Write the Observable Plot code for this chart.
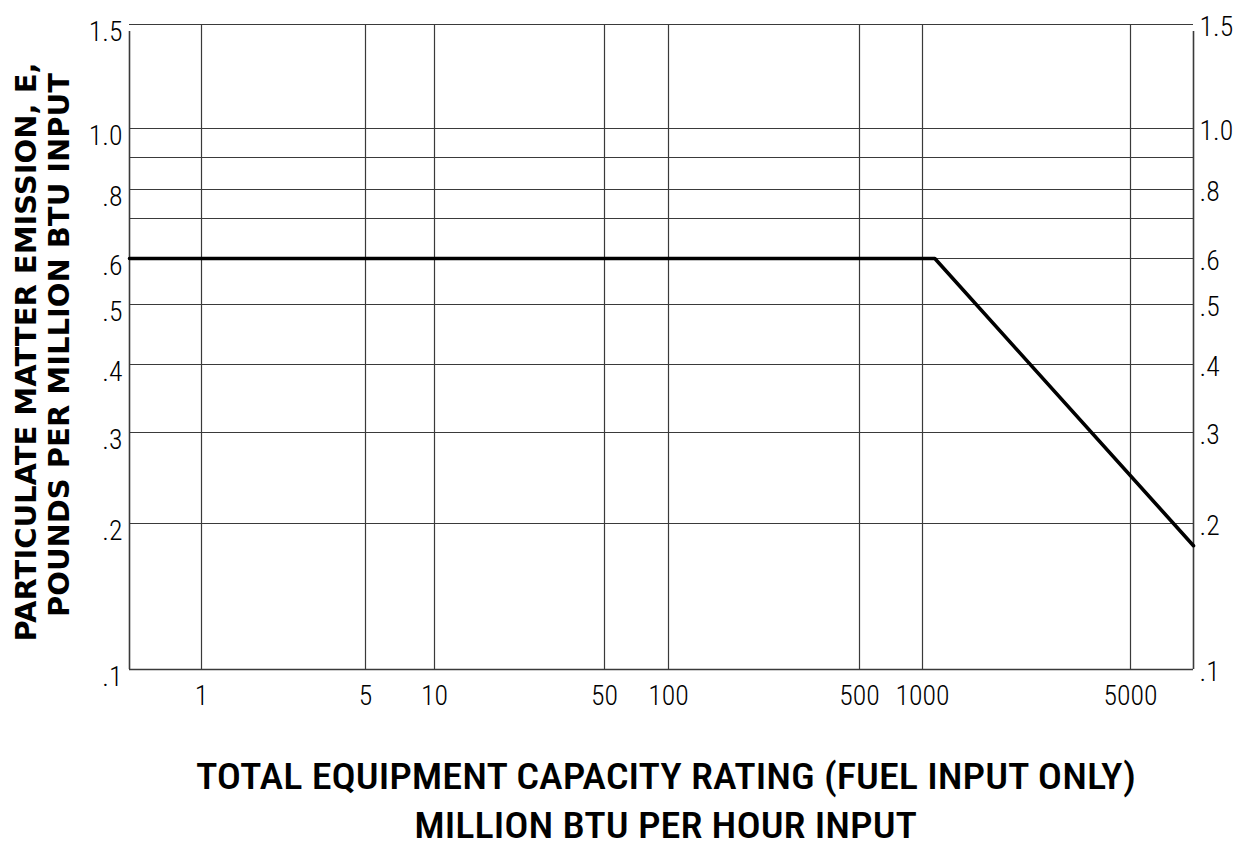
<!DOCTYPE html>
<html>
<head>
<meta charset="utf-8">
<script src="https://cdn.jsdelivr.net/npm/d3@7"></script>
<script src="https://cdn.jsdelivr.net/npm/@observablehq/plot@0.6"></script>
<style>
  html, body { margin: 0; padding: 0; background: #fff; }
  #wrap { position: relative; width: 1239px; height: 848px; overflow: hidden; }
  #chart { position: absolute; left: 0; top: 0; }
  .xt { position: absolute; left: 0; width: 1332px; text-align: center;
        font-weight: 500; color: #000; line-height: 1; white-space: nowrap; }
  .xt span { display: inline-block; transform-origin: 50% 50%; }
</style>
</head>
<body>
<div id="wrap">
  <div id="chart"></div>
  <div class="xt" id="xt1"><span id="xs1">TOTAL EQUIPMENT CAPACITY RATING (FUEL INPUT ONLY)</span></div>
  <div class="xt" id="xt2"><span id="xs2">MILLION BTU PER HOUR INPUT</span></div>
</div>
<script>
// ---- data ----
const xDomainBreaks = [0.5, 1, 5, 10, 50, 100, 500, 1000, 5000, 8000];
const xTickValues = [1, 5, 10, 50, 100, 500, 1000, 5000];
const yDomainBreaks = [0.1, 0.2, 0.3, 0.4, 0.5, 0.6, 0.7, 0.8, 0.9, 1.0, 1.5];
const yGridValues = [0.2, 0.3, 0.4, 0.5, 0.6, 0.7, 0.8, 0.9, 1.0, 1.5];
const yTickValues = [0.1, 0.2, 0.3, 0.4, 0.5, 0.6, 0.8, 1.0, 1.5];
const yTickLabels = [".1", ".2", ".3", ".4", ".5", ".6", ".8", "1.0", "1.5"];
const capacity = [0.5, 1100, 8000];          // million BTU/hr
const emission = [0.6, 0.6, 0.18];           // lb per million BTU
const yTitleLines = ["PARTICULATE MATTER EMISSION, E,", "POUNDS PER MILLION BTU INPUT"];

const lineData = capacity.map((c, i) => ({c, e: emission[i]}));
const yLabel = d => yTickLabels[yTickValues.indexOf(d)];
const xMin = xDomainBreaks[0], xMax = xDomainBreaks[xDomainBreaks.length - 1];
const yMin = yDomainBreaks[0], yMax = yDomainBreaks[yDomainBreaks.length - 1];

// ---- font selection (first installed candidate) ----
const ctx = document.createElement("canvas").getContext("2d");
function hasFont(name) {
  const s = "TOTAL EQUIPMENT 0123456789 abcxyz";
  for (const fb of ["monospace", "serif"]) {
    ctx.font = `40px ${fb}`; const w0 = ctx.measureText(s).width;
    ctx.font = `40px "${name}", ${fb}`; const w1 = ctx.measureText(s).width;
    if (Math.abs(w1 - w0) > 0.5) return true;
  }
  return false;
}
const narrowCands = ["Liberation Sans Narrow", "Roboto Condensed", "DejaVu Sans Condensed", "Liberation Sans", "DejaVu Sans"];
const narrowFont = narrowCands.find(hasFont) || "sans-serif";
function measure(text, font) { ctx.font = font; return ctx.measureText(text).width; }

// tick labels: size so that "1000" is ~54px wide, capped
let tickSize = 54 / measure("1000", `300 1px "${narrowFont}"`);
tickSize = Math.max(22, Math.min(29, tickSize));
const tickFamily = `"${narrowFont}", sans-serif`;

// x-axis title lines (condensed look)
const titleSize = 36;
const xs1 = document.getElementById("xs1"), xs2 = document.getElementById("xs2");
for (const el of [xs1, xs2]) { el.style.fontFamily = tickFamily; el.style.fontSize = titleSize + "px"; }
const w1 = measure(xs1.textContent, `500 ${titleSize}px "${narrowFont}"`);
const sx = 942 / w1;
xs1.style.transform = `scaleX(${sx})`;
xs2.style.transform = `scaleX(${sx})`;
document.getElementById("xt1").style.top = (792 - titleSize * 0.905) + "px";
document.getElementById("xt2").style.top = (841 - titleSize * 0.905) + "px";

const gridColor = "#3a3a3a";

const chart = Plot.plot({
  width: 1239,
  height: 720,
  marginLeft: 129,
  marginRight: 46,
  marginTop: 24,
  marginBottom: 51,
  style: {background: "#fff", color: "#000", fontFamily: tickFamily},
  // hand-drawn, slightly irregular log-log paper: piecewise log scales
  x: {type: "log", axis: null, domain: xDomainBreaks, range: [129, 201, 365, 434, 604, 668, 859, 922, 1130, 1193]},
  y: {type: "log", axis: null, domain: yDomainBreaks, range: [669, 523, 432, 364, 304, 258, 218, 189, 157, 128, 24]},
  marks: [
    Plot.ruleY(yGridValues, {x1: xMin, x2: xMax, stroke: gridColor, strokeWidth: 1.2}),
    Plot.ruleX(xTickValues, {y1: yMin, y2: yMax, stroke: gridColor, strokeWidth: 1.2}),
    Plot.ruleY([yMin], {x1: xMin, x2: xMax, stroke: gridColor, strokeWidth: 1.6}),
    Plot.ruleX([xMin, xMax], {y1: yMin, y2: yMax, stroke: gridColor, strokeWidth: 1.6, insetBottom: -7}),
    Plot.line(lineData, {x: "c", y: "e", stroke: "#000", strokeWidth: 3.6}),
    // tick labels
    Plot.text(xTickValues, {x: d => d, y: yMin, dy: 27, text: d => String(d), fontSize: tickSize, fontWeight: 300, lineAnchor: "middle", fill: "#000"}),
    Plot.text(yTickValues, {x: xMin, y: d => d, dx: -7, dy: 8, text: yLabel, textAnchor: "end", lineAnchor: "middle", fontSize: tickSize, fontWeight: 300, fill: "#000"}),
    Plot.text(yTickValues, {x: xMax, y: d => d, dx: 6, dy: 3, text: yLabel, textAnchor: "start", lineAnchor: "middle", fontSize: tickSize, fontWeight: 300, fill: "#000"}),
    // y title (two rotated lines)
    Plot.text([yTitleLines[0]], {frameAnchor: "left", rotate: -90, textAnchor: "middle", lineAnchor: "middle", dx: -103, dy: 5, fontSize: 29, fontWeight: "bold", fontFamily: "'DejaVu Sans', sans-serif", fill: "#000"}),
    Plot.text([yTitleLines[1]], {frameAnchor: "left", rotate: -90, textAnchor: "middle", lineAnchor: "middle", dx: -70, dy: -2, fontSize: 29, fontWeight: "bold", fontFamily: "'DejaVu Sans', sans-serif", fill: "#000"})
  ]
});
document.getElementById("chart").appendChild(chart);
</script>
</body>
</html>
